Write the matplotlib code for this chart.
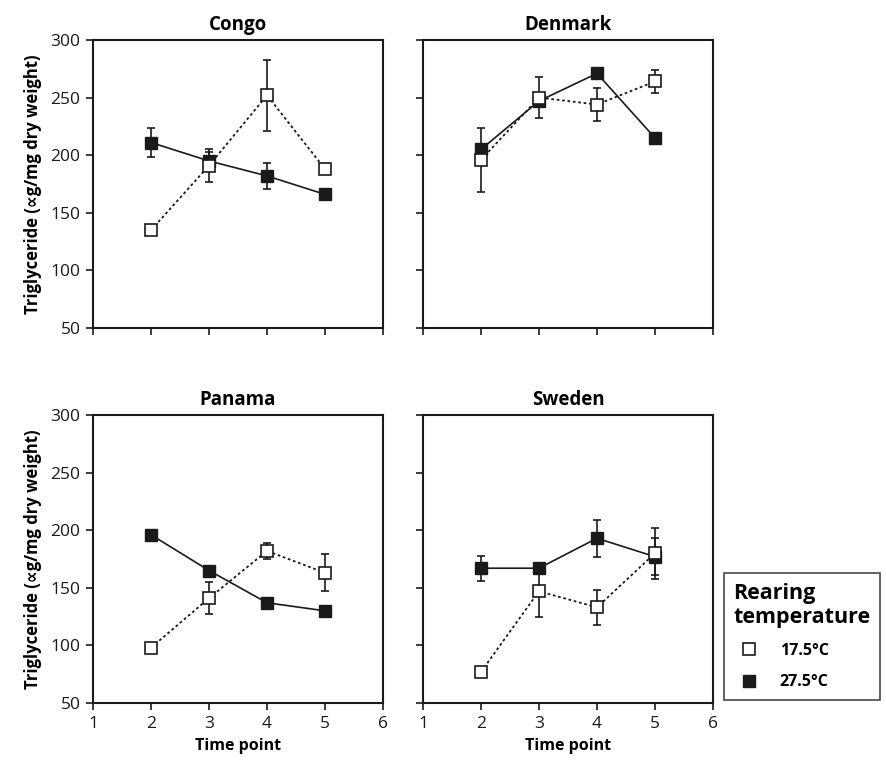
import matplotlib.pyplot as plt
from matplotlib.lines import Line2D

plt.rcParams['font.family'] = ['Open Sans', 'DejaVu Sans']

time_points = [2, 3, 4, 5]
populations = ['Congo', 'Denmark', 'Panama', 'Sweden']

# mean triglyceride and error (+/-) per population, 17.5 C rearing
cold_mean = {
    'Congo':   [135, 191, 252, 188],
    'Denmark': [196, 250, 244, 264],
    'Panama':  [98, 141, 182, 163],
    'Sweden':  [77, 147, 133, 180],
}
cold_err = {
    'Congo':   [0, 14, 31, 0],
    'Denmark': [28, 18, 14, 10],
    'Panama':  [4, 14, 7, 16],
    'Sweden':  [0, 22, 15, 22],
}

# 27.5 C rearing
warm_mean = {
    'Congo':   [211, 195, 182, 166],
    'Denmark': [205, 247, 271, 215],
    'Panama':  [196, 165, 137, 130],
    'Sweden':  [167, 167, 193, 177],
}
warm_err = {
    'Congo':   [13, 8, 11, 0],
    'Denmark': [5, 4, 4, 0],
    'Panama':  [0, 0, 0, 0],
    'Sweden':  [11, 0, 16, 16],
}

fig = plt.figure(figsize=(8.86, 7.78), dpi=100)

lefts = [0.105, 0.4774]
bottoms = [0.5784, 0.0964]
w, h = 0.3273, 0.3702

for i, pop in enumerate(populations):
    row, col = divmod(i, 2)
    ax = fig.add_axes([lefts[col], bottoms[row], w, h])

    ax.errorbar(time_points, warm_mean[pop], yerr=warm_err[pop], color='#1a1a1a',
                marker='s', markersize=8.5, markerfacecolor='#1a1a1a',
                markeredgecolor='#1a1a1a', linestyle='-', linewidth=1.2,
                elinewidth=1.2, capsize=3, capthick=1.2, zorder=2)
    ax.errorbar(time_points, cold_mean[pop], yerr=cold_err[pop], color='#1a1a1a',
                marker='s', markersize=8.5, markerfacecolor='white',
                markeredgecolor='#1a1a1a', markeredgewidth=1.2,
                linestyle=(0, (1.5, 1.5)), linewidth=1.3,
                elinewidth=1.2, capsize=3, capthick=1.2, zorder=3)

    ax.set_xlim(1, 6)
    ax.set_ylim(50, 300)
    ax.set_xticks([1, 2, 3, 4, 5, 6])
    ax.set_yticks([50, 100, 150, 200, 250, 300])
    ax.tick_params(direction='out', length=5, width=1.2, labelsize=12.5,
                   colors='#1a1a1a', pad=4)
    for s in ax.spines.values():
        s.set_linewidth(1.5)
        s.set_color('#1a1a1a')

    ax.set_title(pop, fontsize=13.5, fontweight='bold', pad=7)
    if col == 1:
        ax.set_yticklabels([])
    else:
        ax.set_ylabel('Triglyceride (\u221dg/mg dry weight)', fontsize=12,
                      fontweight='bold', labelpad=6)
    if row == 0:
        ax.set_xticklabels([])
    else:
        ax.set_xlabel('Time point', fontsize=11.5, fontweight='bold', labelpad=5)

handles = [
    Line2D([], [], marker='s', linestyle='none', markersize=9,
           markerfacecolor='white', markeredgecolor='#1a1a1a', markeredgewidth=1.2),
    Line2D([], [], marker='s', linestyle='none', markersize=9,
           markerfacecolor='#1a1a1a', markeredgecolor='#1a1a1a'),
]
leg = fig.legend(handles, ['17.5\u00b0C', '27.5\u00b0C'], loc='upper left',
                 bbox_to_anchor=(0.817, 0.2635), borderaxespad=0,
                 frameon=True, fancybox=False,
                 edgecolor='#1a1a1a', title='Rearing\ntemperature',
                 title_fontproperties={'weight': 'bold', 'size': 15.5},
                 prop={'weight': 'bold', 'size': 11.5}, handletextpad=0.9,
                 labelspacing=0.95, borderpad=0.6, alignment='left')
leg.get_frame().set_linewidth(1.2)

fig.savefig('out.png', dpi=100)
